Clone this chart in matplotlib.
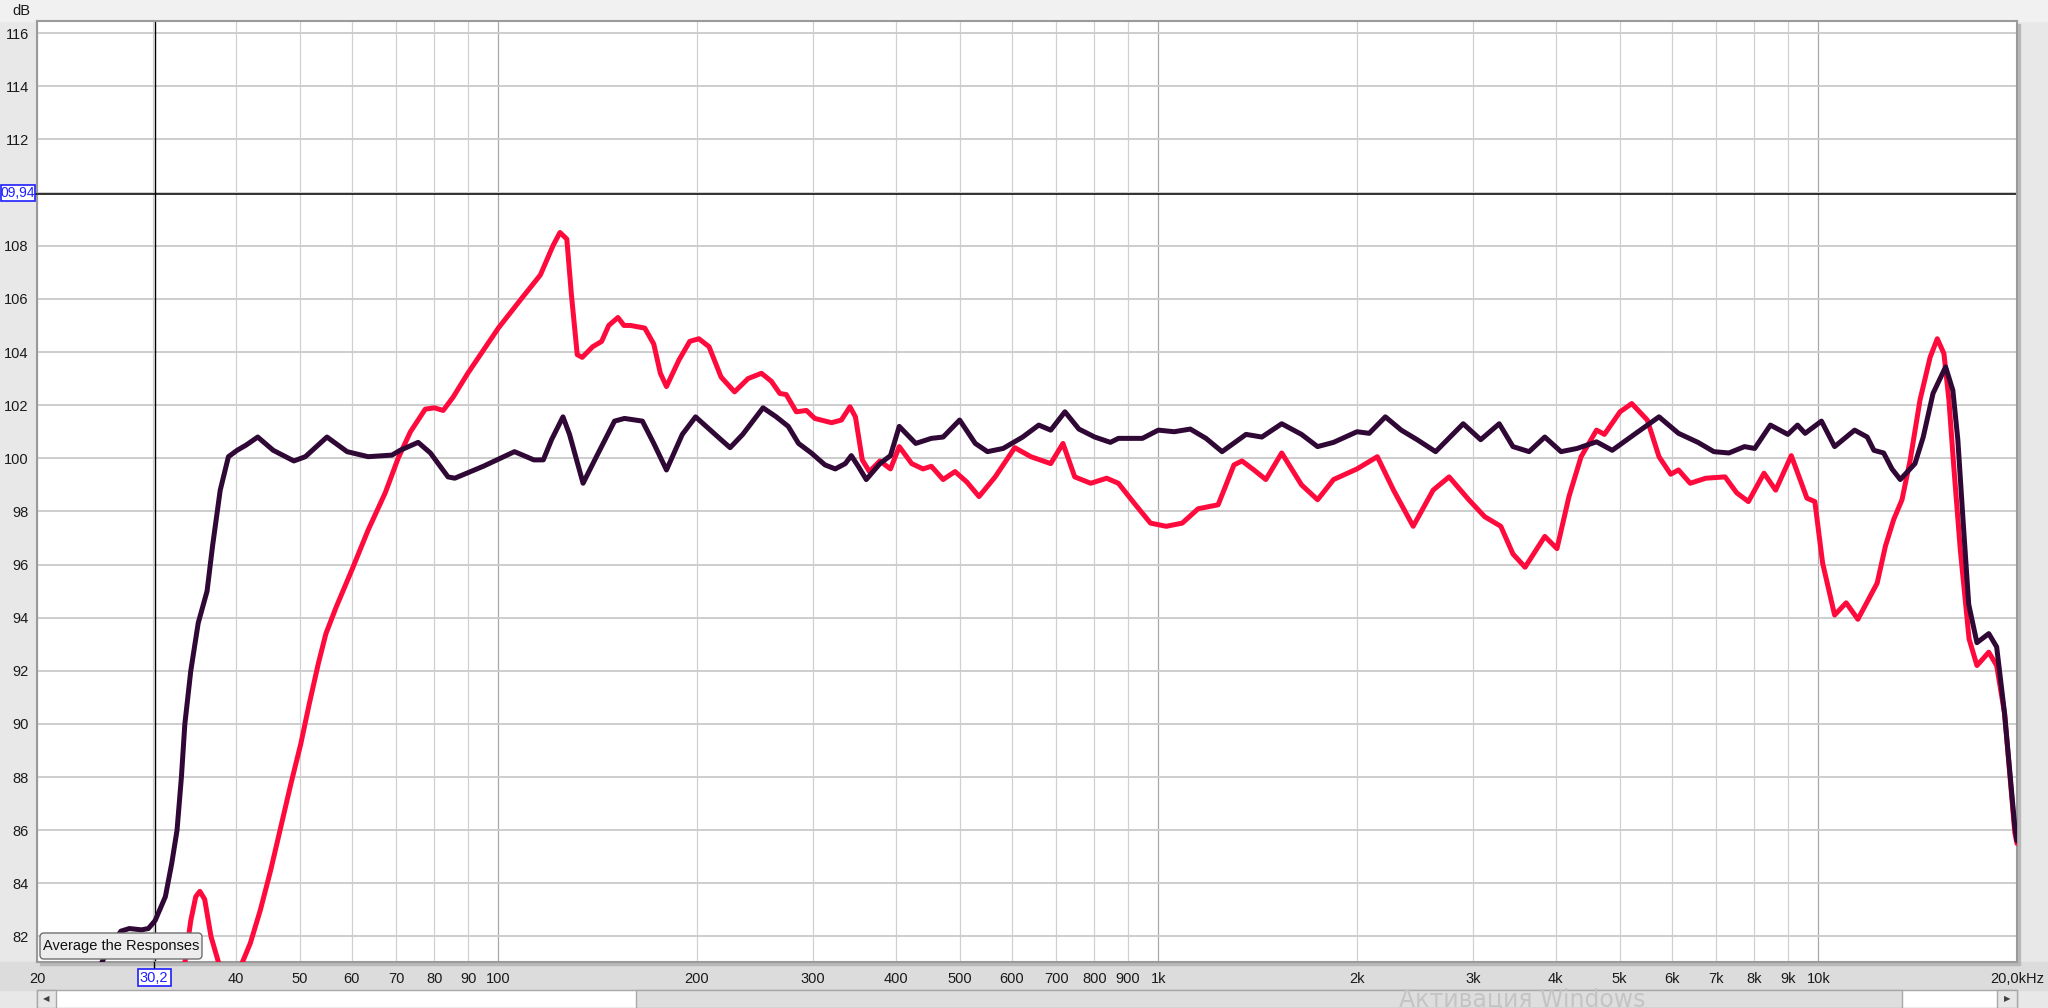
import matplotlib
matplotlib.use('Agg')
import matplotlib.pyplot as plt
from matplotlib.patches import Rectangle, FancyBboxPatch
from matplotlib.lines import Line2D
from matplotlib.transforms import IdentityTransform

plt.rcParams['font.family'] = ['Liberation Sans', 'DejaVu Sans']

# --- data (Hz, dB) ---
red_freq = [32.5, 33.5, 34.2, 34.8, 35.3, 35.9, 36.7, 37.7, 39.2, 40.9, 42.1, 43.6, 45.2, 46.8,
            48.5, 50.2, 51.7, 53.4, 54.8, 56.8, 60.0, 63.5, 67.4, 70.5, 73.6, 77.5, 80.0, 82.5,
            85.4, 89.9, 100, 108.8, 115.8, 121, 124, 127, 129, 131.7, 134, 139, 143.4, 147,
            151.8, 155, 158.6, 166.7, 172, 176, 179.8, 187.8, 195, 201.3, 208.6, 217.5, 228,
            239, 250.4, 259.2, 267, 273, 282.8, 293, 301.7, 319.8, 331, 341, 347.6, 356, 365,
            378.6, 392.8, 405, 423, 440, 453, 472, 492, 513, 535, 566, 606, 641, 687, 717, 747,
            790, 835, 870, 920, 973, 1028, 1087, 1149, 1232, 1302, 1339, 1396, 1455, 1538,
            1648, 1743, 1843, 2000, 2147, 2272, 2433, 2608, 2758, 2954, 3123, 3303, 3446, 3595,
            3851, 4018, 4190, 4371, 4613, 4741, 5007, 5216, 5507, 5736, 5975, 6140, 6395, 6753,
            7222, 7522, 7835, 8274, 8617, 9100, 9610, 9880, 10150, 10585, 11020, 11480, 12278,
            12640, 13010, 13390, 13780, 14260, 14770, 15144, 15500, 15770, 16040, 16410, 16921,
            17393, 18125, 18630, 19150, 19850, 20000]
red_db = [79.5, 81.0, 82.6, 83.5, 83.7, 83.4, 82.0, 81.0, 80.3, 81.0, 81.75, 83.0, 84.5, 86.1,
          87.75, 89.25, 90.75, 92.3, 93.4, 94.4, 95.8, 97.3, 98.7, 100.0, 101.0, 101.85, 101.9, 101.8,
          102.3, 103.2, 104.9, 106.06, 106.9, 108.0, 108.5, 108.25, 106.2, 103.9, 103.8, 104.2, 104.4, 105.0,
          105.3, 105.0, 105.0, 104.9, 104.3, 103.2, 102.7, 103.7, 104.4, 104.5, 104.2, 103.06, 102.5,
          103.0, 103.2, 102.9, 102.44, 102.4, 101.75, 101.8, 101.5, 101.34, 101.44, 101.94, 101.56, 99.94, 99.5,
          99.9, 99.6, 100.44, 99.8, 99.6, 99.7, 99.2, 99.5, 99.1, 98.56, 99.3, 100.4, 100.06, 99.8, 100.56, 99.3,
          99.06, 99.25, 99.06, 98.3, 97.56, 97.44, 97.56, 98.1, 98.25, 99.75, 99.9, 99.56, 99.2, 100.2,
          99.0, 98.44, 99.2, 99.6, 100.06, 98.8, 97.44, 98.8, 99.3, 98.44, 97.8, 97.44, 96.4, 95.9,
          97.06, 96.6, 98.56, 100.06, 101.06, 100.9, 101.75, 102.06, 101.44, 100.06, 99.4, 99.56, 99.06, 99.25,
          99.3, 98.7, 98.37, 99.44, 98.8, 100.1, 98.5, 98.37, 96.06, 94.1, 94.56, 93.94, 95.3,
          96.7, 97.7, 98.44, 99.94, 102.2, 103.8, 104.5, 103.94, 102.2, 99.7, 96.56, 93.2,
          92.2, 92.7, 92.2, 90.4, 85.9, 85.5]

dark_freq = [24.5, 25.5, 26.8, 27.6, 28.8, 29.5, 30.2, 31.3, 32.0, 32.6, 33.1, 33.5, 34.2, 35.1,
             36.2, 36.9, 37.9, 39.0, 40.2, 41.5, 43.2, 45.6, 49.0, 51, 55.0, 59, 63.5, 69, 71,
             75.6, 78.9, 83.9, 85.9, 94.9, 105.8, 113.2, 117, 120.4, 125.3, 128.2, 134.4, 140.8,
             150, 155.3, 165.3, 172, 179.8, 190, 199, 217.5, 224.5, 234.6, 251.8, 263.7, 275,
             285, 298, 312.6, 324, 335.5, 342.6, 351, 361, 378.6, 392.8, 405, 429, 453, 472, 500,
             528, 551, 582, 623, 659, 687, 722, 758, 801, 846, 870, 946, 1000, 1057, 1118, 1181,
             1249, 1358, 1435, 1538, 1648, 1743, 1843, 2000, 2087, 2208, 2334, 2467, 2631, 2897,
             3079, 3285, 3446, 3646, 3851, 4075, 4310, 4613, 4872, 5291, 5736, 6140, 6570, 6945,
             7320, 7730, 8010, 8460, 8990, 9300, 9550, 10110, 10585, 11350, 11860, 12140, 12560,
             12930, 13310, 14010, 14420, 14920, 15590, 15990, 16270, 16560, 16900, 17390, 18125,
             18630, 19150, 19850, 20000]
dark_db = [80.5, 81.4, 82.2, 82.3, 82.25, 82.3, 82.6, 83.5, 84.75, 86.0, 88.0, 90.0, 92.0, 93.8,
           95.0, 96.7, 98.8, 100.06, 100.3, 100.5, 100.8, 100.3, 99.9, 100.06, 100.8, 100.25, 100.06, 100.12, 100.3,
           100.6, 100.2, 99.3, 99.25, 99.7, 100.25, 99.94, 99.94, 100.7, 101.56, 100.9, 99.06, 100.06,
           101.4, 101.5, 101.4, 100.56, 99.56, 100.9, 101.56, 100.7, 100.4, 100.9, 101.9, 101.56, 101.2,
           100.56, 100.2, 99.75, 99.6, 99.8, 100.1, 99.7, 99.2, 99.8, 100.1, 101.2, 100.56, 100.75, 100.8, 101.44,
           100.56, 100.25, 100.37, 100.8, 101.25, 101.06, 101.75, 101.1, 100.8, 100.6, 100.75, 100.75, 101.06, 101.0, 101.1, 100.75,
           100.25, 100.9, 100.8, 101.3, 100.9, 100.44, 100.6, 101.0, 100.94, 101.56, 101.06, 100.7, 100.25, 101.3,
           100.7, 101.3, 100.44, 100.25, 100.8, 100.25, 100.37, 100.62, 100.3, 100.94, 101.56, 100.94, 100.6, 100.25,
           100.2, 100.44, 100.37, 101.25, 100.9, 101.25, 100.94, 101.4, 100.44, 101.06, 100.8, 100.3, 100.2,
           99.6, 99.2, 99.8, 100.8, 102.44, 103.44, 102.56, 100.7, 97.75, 94.5, 93.06, 93.4,
           92.9, 90.4, 86.1, 85.6]

x_ticks = [20, 40, 50, 60, 70, 80, 90, 100, 200, 300, 400, 500, 600, 700, 800, 900,
           1000, 2000, 3000, 4000, 5000, 6000, 7000, 8000, 9000, 10000, 20000]
x_labels = ['20', '40', '50', '60', '70', '80', '90', '100', '200', '300', '400', '500', '600',
            '700', '800', '900', '1k', '2k', '3k', '4k', '5k', '6k', '7k', '8k', '9k', '10k', '20,0kHz']
y_ticks = [82, 84, 86, 88, 90, 92, 94, 96, 98, 100, 102, 104, 106, 108, 112, 114, 116]
cursor_f = 30.2
cursor_db = 109.94

W, H = 2048, 1008
px = IdentityTransform()


def fy(y):
    return H - y


fig = plt.figure(figsize=(20.48, 10.08), dpi=100, facecolor='#e8e8e8')
L, R, T, B = 37, 2017, 21, 962

# window chrome
fig.add_artist(Rectangle((0, fy(T)), W, T, transform=px, color='#f1f1f1', zorder=-2))
fig.add_artist(Rectangle((0, fy(990)), W, 990 - B, transform=px, color='#dcdcdc', zorder=-2))
fig.add_artist(Rectangle((L + 3, fy(B + 3)), R - L, B - T, transform=px, color='#b8b8b8', zorder=-1))

ax = fig.add_axes([L / W, 1 - B / H, (R - L) / W, (B - T) / H])
ax.set_xscale('log')
ax.set_xlim(20, 20000)
ax.set_ylim(81.04, 116.46)
ax.set_facecolor('white')

# grid
for dec in [10, 100, 1000, 10000]:
    for m in range(1, 10):
        f = dec * m
        if 20 <= f <= 20000:
            ax.axvline(f, color='#a9a9a9' if m == 1 else '#d0d0d0', lw=0.9, zorder=1)
for v in range(82, 118, 2):
    ax.axhline(v, color='#cdcdcd', lw=1.4, zorder=1)

# cursor
ax.axvline(cursor_f, color='black', lw=1.0, zorder=2)
ax.axhline(cursor_db, color='black', lw=1.1, zorder=2)

ax.plot(red_freq, red_db, color='#ff0a3c', lw=3.6, zorder=3, solid_capstyle='round')
ax.plot(dark_freq, dark_db, color='#2f0835', lw=3.6, zorder=4, solid_capstyle='round')

ax.set_xticks(x_ticks)
ax.set_xticklabels(x_labels)
ax.xaxis.set_minor_locator(plt.NullLocator())
ax.set_yticks(y_ticks)
ax.set_yticklabels([str(v) for v in y_ticks])
ax.tick_params(axis='both', length=0, labelsize=10.5, colors='#1a1a1a')
ax.tick_params(axis='x', pad=7)
ax.tick_params(axis='y', pad=6)
for s in ax.spines.values():
    s.set_color('#9a9a9a')
    s.set_linewidth(1.5)

fig.text(21, fy(11), 'dB', transform=px, ha='center', va='center', fontsize=10.5, color='#1a1a1a')

# cursor readouts
fig.add_artist(Line2D([154, 154], [fy(B), fy(969)], transform=px, color='black', lw=1.0))
fig.add_artist(Line2D([34, L], [fy(193.5), fy(193.5)], transform=px, color='black', lw=1.1))
fig.add_artist(Rectangle((137.5, fy(986)), 33, 17, transform=px, facecolor='white',
                         edgecolor='#1f1fff', lw=1.2, zorder=5))
fig.text(154, fy(977.5), '30,2', transform=px, ha='center', va='center', fontsize=10.5,
         color='#1f1fff', zorder=6)
fig.add_artist(Rectangle((0.5, fy(201)), 34, 16, transform=px, facecolor='white',
                         edgecolor='#1f1fff', lw=1.2, zorder=5))
# the leading "1" of 109,94 is hidden by the window edge in the screenshot
fig.text(17.5, fy(193), '09,94', transform=px, ha='center', va='center', fontsize=10,
         color='#1f1fff', zorder=6)

# button
fig.add_artist(FancyBboxPatch((40, fy(959)), 162, 26, boxstyle='round,pad=0,rounding_size=4',
                              transform=px, facecolor='#ececec', edgecolor='#707070', lw=1.0, zorder=6))
fig.text(121, fy(946), 'Average the Responses', transform=px, ha='center', va='center',
         fontsize=10.5, color='#111111', zorder=7)

# scrollbar
fig.add_artist(Rectangle((L, 0), R - L, fy(990), transform=px, facecolor='white',
                         edgecolor='#a8a8a8', lw=1.0, zorder=5))
fig.add_artist(Rectangle((L, 0), 19, fy(990), transform=px, facecolor='#e6e6e6',
                         edgecolor='#a8a8a8', lw=1.0, zorder=6))
fig.add_artist(Rectangle((R - 20, 0), 20, fy(990), transform=px, facecolor='#e6e6e6',
                         edgecolor='#a8a8a8', lw=1.0, zorder=6))
fig.add_artist(Rectangle((636, 0), 1266, fy(990), transform=px, facecolor='#dedede',
                         edgecolor='#a8a8a8', lw=1.0, zorder=6))
fig.text(L + 9.5, fy(999), '\u25c0', transform=px, ha='center', va='center', fontsize=6,
         color='#404040', family='DejaVu Sans', zorder=7)
fig.text(R - 10, fy(999), '\u25b6', transform=px, ha='center', va='center', fontsize=6,
         color='#404040', family='DejaVu Sans', zorder=7)

fig.text(1522, fy(1007), 'Активация Windows', transform=px, ha='center', va='baseline',
         fontsize=17, color='#c4c4c4', family='DejaVu Sans', zorder=8)

fig.savefig('out.png', dpi=100, facecolor=fig.get_facecolor())
